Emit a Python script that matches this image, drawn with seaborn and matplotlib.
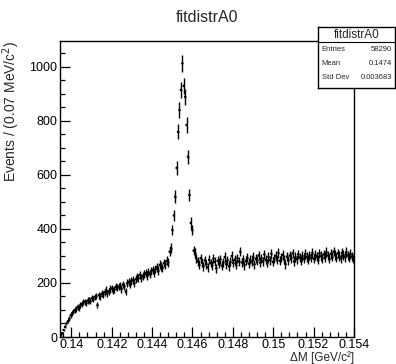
import numpy as np
import pandas as pd
import matplotlib
matplotlib.use("Agg")
import matplotlib.pyplot as plt
import seaborn as sns
from matplotlib.ticker import FixedLocator, AutoMinorLocator, FuncFormatter

# histogram binning (0.07 MeV bins)
x_lo = 0.13944
x_hi = 0.154
n_bins = 208

counts = [
    7, 14, 26, 38, 50, 58, 68, 80, 88, 94,
    100, 104, 112, 108, 118, 122, 128, 131, 126, 135,
    138, 132, 144, 140, 148, 152, 118, 155, 150, 160,
    158, 166, 174, 162, 170, 178, 180, 172, 176, 186,
    182, 186, 190, 178, 194, 188, 168, 199, 204, 196,
    208, 211, 200, 214, 222, 218, 230, 220, 226, 232,
    236, 228, 240, 234, 244, 248, 238, 252, 258, 246,
    267, 262, 256, 274, 270, 282, 276,
    316, 330, 396, 450, 520, 626, 760, 840, 915, 1013,
    930, 890, 785, 668, 526, 422, 396, 320, 311, 290,
    280, 268, 292, 276, 262, 284, 270, 258, 286, 274,
    266, 290, 278, 254, 282, 272, 288, 264, 276, 296,
    270, 284, 262, 278, 300, 274, 286, 268, 292, 280,
    316, 276, 288, 266, 282, 294, 272, 286, 278, 298,
    270, 290, 284, 302, 276, 292, 280, 306, 286, 274,
    296, 284, 308, 278, 292, 300, 286, 312, 282, 294,
    304, 288, 270, 298, 284, 302, 292, 310, 280, 296,
    288, 306, 294, 282, 300, 290, 308, 296, 286, 302,
    294, 312, 290, 304, 298, 286, 310, 300, 292, 306,
    296, 314, 302, 290, 308, 298, 316, 304, 294, 310,
    300, 292, 312, 304, 296, 314, 302, 294, 308, 298, 290,
]

x_ticks = [0.14, 0.142, 0.144, 0.146, 0.148, 0.15, 0.152, 0.154]
y_ticks = [0, 200, 400, 600, 800, 1000]

stats_names = ["Entries", "Mean", "Std Dev"]
stats_values = ["58290", "0.1474", "0.003683"]

edges = np.linspace(x_lo, x_hi, n_bins + 1)
centers = 0.5 * (edges[:-1] + edges[1:])
width = edges[1] - edges[0]
df = pd.DataFrame({"x": centers, "n": counts})
df["err"] = np.sqrt(df["n"])

sns.set_theme(style="ticks")
plt.rcParams["font.family"] = ["Liberation Sans", "DejaVu Sans"]

fig = plt.figure(figsize=(3.96, 3.64), dpi=100)
ax = fig.add_axes([60 / 396, 27 / 364, 294 / 396, 296 / 364])

ax.errorbar(df["x"], df["n"], yerr=df["err"], xerr=width / 2, fmt="none",
            ecolor="black", elinewidth=1.0, capsize=0)
sns.scatterplot(data=df, x="x", y="n", ax=ax, s=3, color="black",
                edgecolor="none", legend=False)

ax.set_xlim(x_lo, x_hi)
ax.set_ylim(0, 1096)
ax.xaxis.set_major_locator(FixedLocator(x_ticks))
ax.xaxis.set_major_formatter(FuncFormatter(lambda v, p: "%g" % v))
ax.xaxis.set_minor_locator(AutoMinorLocator(5))
ax.yaxis.set_major_locator(FixedLocator(y_ticks))
ax.yaxis.set_minor_locator(AutoMinorLocator(4))
ax.tick_params(which="both", direction="in", top=False, right=False,
               labelsize=9, pad=2, width=0.9, colors="black")
ax.tick_params(axis="x", pad=1.5)
ax.tick_params(which="major", length=7)
ax.tick_params(which="minor", length=3.5)
for s in ax.spines.values():
    s.set_linewidth(1.0)
    s.set_color("black")
ax.set_xlabel("")
ax.set_ylabel("")

fig.text(354 / 396, 1 - 357.5 / 364, "\u0394M [GeV/c\u00b2]", fontsize=8.5,
         ha="right", va="center")
fig.text(11 / 396, 1 - 41 / 364, r"Events / (0.07 MeV/c$^2$)", fontsize=10,
         rotation=90, ha="center", va="top")

fig.text(207 / 396, 1 - 18 / 364, "fitdistrA0", fontsize=11.5,
         ha="center", va="center")

# stats box
box = fig.add_axes([318 / 396, (364 - 88) / 364, 77 / 396, 61 / 364])
box.set_xticks([])
box.set_yticks([])
for s in box.spines.values():
    s.set_linewidth(1.0)
    s.set_color("black")
box.set_xlim(0, 1)
box.set_ylim(0, 1)
box.axhline(0.75, color="black", lw=0.8)
box.text(0.5, 0.875, "fitdistrA0", fontsize=8.5, ha="center", va="center")
for i, (nm, val) in enumerate(zip(stats_names, stats_values)):
    yy = 0.63 - i * 0.23
    box.text(0.05, yy, nm, fontsize=5.5, ha="left", va="center")
    box.text(0.96, yy, val, fontsize=5.5, ha="right", va="center")

fig.savefig("out.png", dpi=100)
